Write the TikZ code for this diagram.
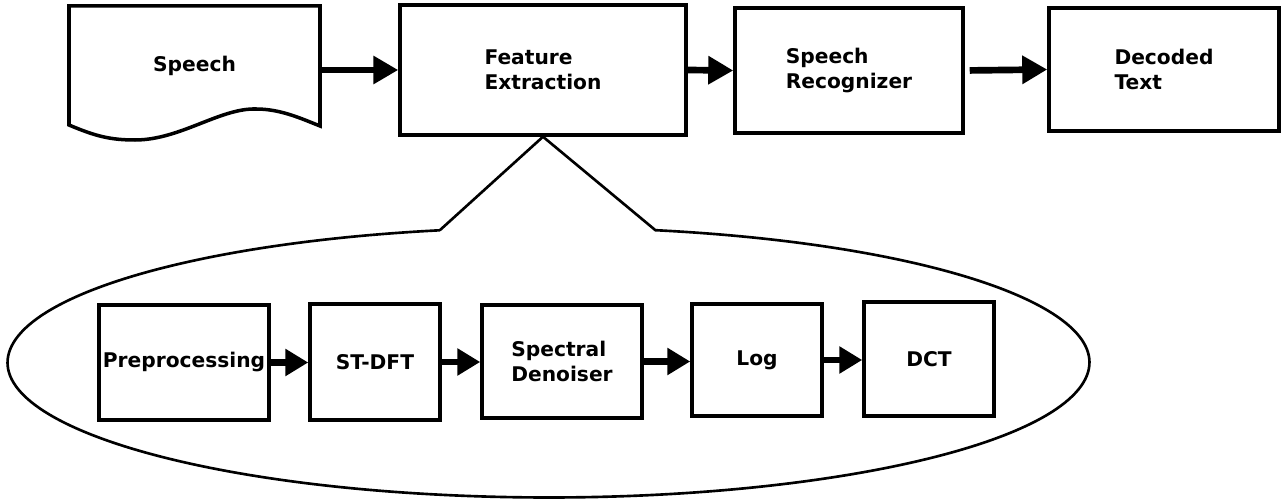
\documentclass[tikz,border=0pt]{standalone}
\usepackage{fontspec}
\setmainfont{DejaVu Sans}
\usetikzlibrary{arrows.meta}

\begin{document}
\begin{tikzpicture}[x=0.02cm, y=-0.02cm,
  every node/.style={font=\fontsize{11.5}{14.2}\selectfont\bfseries},
  blk/.style={draw, line width=2pt, align=left, inner sep=0pt},
  flow/.style={line width=3.8pt, -{Triangle[length=0.5cm, width=0.54cm]}},
  ]
  \useasboundingbox (0,0) rectangle (1286,499);
  % top row
  \draw[line width=2pt] (69,6) -- (320,6) -- (320,126)
    .. controls (300,118) and (280,109) .. (256,109)
    .. controls (220,108) and (180,140) .. (135,140)
    .. controls (110,140) and (95,136) .. (69,125) -- cycle;
  \node (speech) at (194.5,66) [minimum width=5.02cm] {Speech};
  \node[blk, minimum width=5.72cm, minimum height=2.6cm] (feat) at (543,70) {Feature\\Extraction};
  \node[blk, minimum width=4.56cm, minimum height=2.5cm] (recog) at (849,70.5) {Speech\\Recognizer};
  \node[blk, minimum width=4.6cm, minimum height=2.46cm] (decod) at (1164,69.5) {Decoded\\Text};
  \draw[flow] (speech.east |- feat.west) -- (feat.west);
  \draw[flow] (feat.east) -- (recog.west);
  \draw[flow, shorten <=0.1cm] (recog.east) -- (decod.west);

  % zoomed feature extraction
  \coordinate (lens) at (548.5,362.5);
  \path (lens) ++(78.6:10.82cm and 2.7cm) coordinate (cr);
  \path (lens) ++(101.6:10.82cm and 2.7cm) coordinate (cl);
  \draw[line width=1.5pt] (cl) -- (feat.south) -- (cr)
    arc[start angle=78.6, end angle=-258.4, x radius=10.82cm, y radius=2.7cm];

  \node[blk, minimum width=3.4cm, minimum height=2.3cm] (prep) at (184,362.5) {Preprocessing};
  \node[blk, minimum width=2.6cm, minimum height=2.32cm] (stdft) at (375,362) {ST-DFT};
  \node[blk, minimum width=3.2cm, minimum height=2.26cm] (denoise) at (562,361.5) {Spectral\\Denoiser};
  \node[blk, minimum width=2.6cm, minimum height=2.24cm] (logb) at (757,360) {Log};
  \node[blk, minimum width=2.6cm, minimum height=2.28cm] (dct) at (929,359) {DCT};
  \foreach \a/\b in {prep/stdft, stdft/denoise, denoise/logb, logb/dct}
    \draw[flow, -{Triangle[length=0.46cm, width=0.52cm]}] (\a.east) -- (\a.east -| \b.west);
\end{tikzpicture}
\end{document}
